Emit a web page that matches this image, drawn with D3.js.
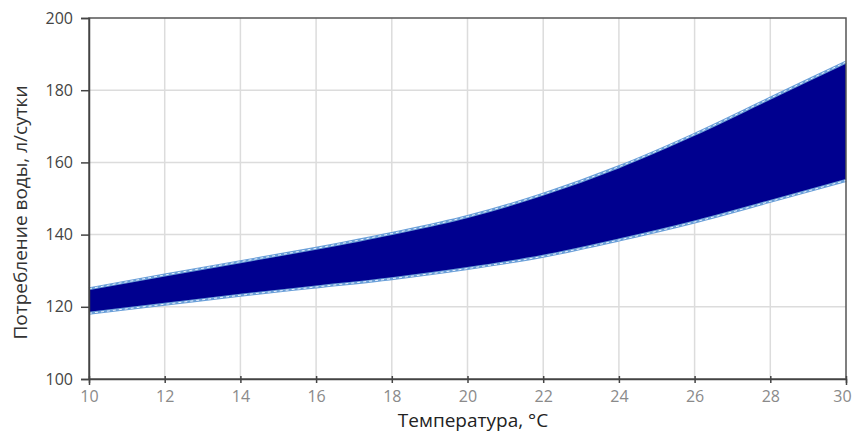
<!DOCTYPE html>
<html><head><meta charset="utf-8">
<script src="https://cdn.jsdelivr.net/npm/d3@7"></script>
<style>html,body{margin:0;padding:0;background:#fff;}svg{display:block;}</style>
</head><body>
<script>
const temps = [10, 12, 14, 16, 18, 20, 22, 24, 26, 28, 30];
const upper = [125, 128.8, 132.5, 136.2, 140.3, 145, 151.2, 158.8, 167.8, 177.8, 187.8];
const lower = [118.2, 120.7, 123.2, 125.5, 127.8, 130.6, 134, 138.5, 143.5, 149.2, 155];
const xTicks = [10, 12, 14, 16, 18, 20, 22, 24, 26, 28, 30];
const yTicks = [100, 120, 140, 160, 180, 200];
const xLabel = "Температура, °С";
const yLabel = "Потребление воды, л/сутки";

const W = 853, H = 432;
const m = {left: 89, right: 7, top: 18, bottom: 53};
const svg = d3.select("body").append("svg").attr("width", W).attr("height", H);
const x = d3.scaleLinear().domain([10, 30]).range([m.left, W - m.right]);
const y = d3.scaleLinear().domain([100, 200]).range([H - m.bottom, m.top]);
const font = "'Open Sans', 'DejaVu Sans', sans-serif";

// grid
svg.append("g").selectAll("line").data(xTicks.slice(1, -1)).join("line")
  .attr("x1", d => x(d)).attr("x2", d => x(d)).attr("y1", y(200)).attr("y2", y(100))
  .attr("stroke", "#dcdcdc").attr("stroke-width", 1.5);
svg.append("g").selectAll("line").data(yTicks.slice(1, -1)).join("line")
  .attr("y1", d => y(d)).attr("y2", d => y(d)).attr("x1", x(10)).attr("x2", x(30))
  .attr("stroke", "#dcdcdc").attr("stroke-width", 1.5);

const data = temps.map((t, i) => ({t, u: upper[i], l: lower[i]}));
const curve = d3.curveMonotoneX;
svg.append("path").datum(data)
  .attr("d", d3.area().x(d => x(d.t)).y0(d => y(d.l)).y1(d => y(d.u)).curve(curve))
  .attr("fill", "#00008f");
const lineU = d3.line().x(d => x(d.t)).y(d => y(d.u)).curve(curve);
const lineL = d3.line().x(d => x(d.t)).y(d => y(d.l)).curve(curve);
[lineU, lineL].forEach(ln => {
  svg.append("path").datum(data).attr("d", ln).attr("fill", "none")
    .attr("stroke", "#6a9fd8").attr("stroke-width", 3);
  svg.append("path").datum(data).attr("d", ln).attr("fill", "none")
    .attr("stroke", "#e8f0ff").attr("stroke-width", 1).attr("stroke-dasharray", "3,3");
});

// frame
svg.append("rect").attr("x", x(10)).attr("y", y(200)).attr("width", x(30) - x(10)).attr("height", y(100) - y(200))
  .attr("fill", "none").attr("stroke", "#555").attr("stroke-width", 1.5);

// axes
const xAxis = svg.append("g").attr("transform", `translate(0,${y(100)})`)
  .call(d3.axisBottom(x).tickValues(xTicks).tickSize(6).tickPadding(6).tickFormat(d3.format("d")));
xAxis.select(".domain").attr("stroke", "#444").attr("stroke-width", 1.5);
xAxis.selectAll(".tick line").attr("stroke", "#444").attr("stroke-width", 1.5).attr("y1", -3).attr("y2", 4);
xAxis.selectAll("text").attr("fill", "#8a8a8a").attr("font-size", 16).attr("font-family", font);
xAxis.selectAll("text").filter(d => d === 30).attr("dx", -4);

const yAxis = svg.append("g").attr("transform", `translate(${x(10)},0)`)
  .call(d3.axisLeft(y).tickValues(yTicks).tickSize(8).tickPadding(8).tickFormat(d3.format("d")));
yAxis.select(".domain").attr("stroke", "#444").attr("stroke-width", 1.5);
yAxis.selectAll(".tick line").attr("stroke", "#444").attr("stroke-width", 1.5);
yAxis.selectAll("text").attr("fill", "#444").attr("font-size", 16).attr("font-family", font);

svg.append("text").attr("x", 473).attr("y", 427).attr("text-anchor", "middle")
  .attr("font-family", font).attr("font-size", 19).attr("fill", "#222").text(xLabel);
svg.append("text").attr("transform", `translate(27,${(y(100) + y(200)) / 2 + 14}) rotate(-90)`)
  .attr("text-anchor", "middle").attr("font-family", font).attr("font-size", 19).attr("fill", "#333").text(yLabel);
</script>
</body></html>
